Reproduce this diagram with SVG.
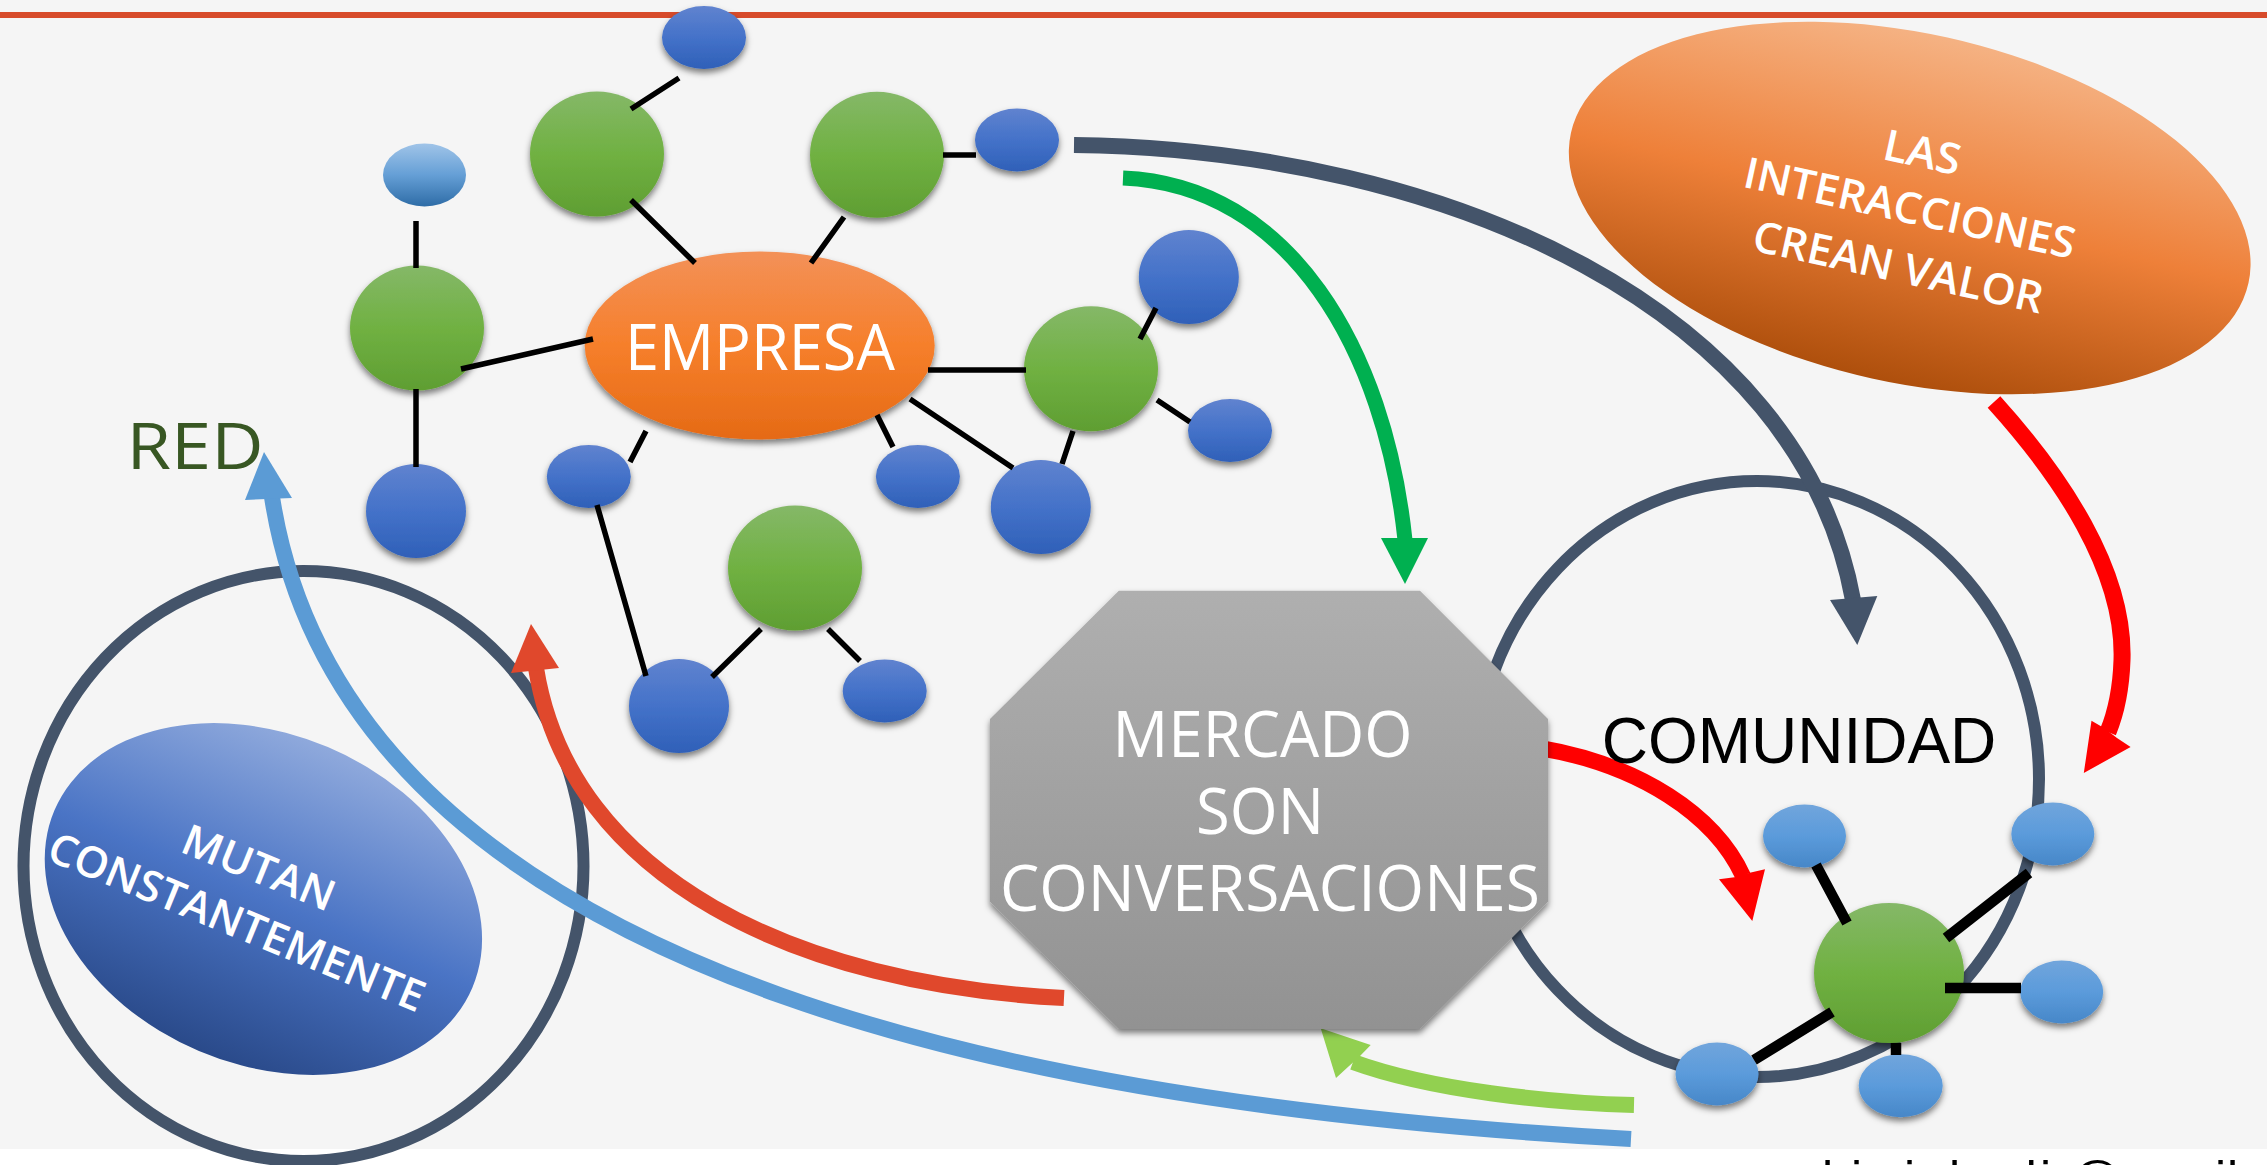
<svg xmlns="http://www.w3.org/2000/svg" width="2267" height="1165" viewBox="0 0 2267 1165">
<defs>
<linearGradient id="gGreen" x1="0" y1="0" x2="0" y2="1"><stop offset="0" stop-color="#85b868"/><stop offset="0.5" stop-color="#70b142"/><stop offset="1" stop-color="#5f9e32"/></linearGradient>
<linearGradient id="gBlue" x1="0" y1="0" x2="0" y2="1"><stop offset="0" stop-color="#6083cf"/><stop offset="0.5" stop-color="#4472c9"/><stop offset="1" stop-color="#2f60b8"/></linearGradient>
<linearGradient id="gSky" x1="0" y1="0" x2="0" y2="1"><stop offset="0" stop-color="#71a5dc"/><stop offset="0.5" stop-color="#5b9bdb"/><stop offset="1" stop-color="#4787c8"/></linearGradient>
<linearGradient id="gPale" x1="0" y1="0" x2="0" y2="1"><stop offset="0" stop-color="#a0c4e8"/><stop offset="0.5" stop-color="#659fd6"/><stop offset="1" stop-color="#2e6ca6"/></linearGradient>
<linearGradient id="gEmp" x1="0" y1="0" x2="0" y2="1"><stop offset="0" stop-color="#f39158"/><stop offset="0.5" stop-color="#f67f2b"/><stop offset="1" stop-color="#e56a15"/></linearGradient>
<linearGradient id="gLas" x1="0" y1="0" x2="0" y2="1"><stop offset="0" stop-color="#f5b283"/><stop offset="0.5" stop-color="#ee8039"/><stop offset="1" stop-color="#ae4f0c"/></linearGradient>
<linearGradient id="gMut" x1="0" y1="0" x2="0" y2="1"><stop offset="0" stop-color="#8fa9dc"/><stop offset="0.5" stop-color="#4a74c5"/><stop offset="1" stop-color="#2a4a8a"/></linearGradient>
<linearGradient id="gOct" x1="0" y1="0" x2="0" y2="1"><stop offset="0" stop-color="#afafaf"/><stop offset="1" stop-color="#929292"/></linearGradient>
<filter id="sh" x="-20%" y="-20%" width="140%" height="150%"><feDropShadow dx="0" dy="4" stdDeviation="3" flood-color="#000" flood-opacity="0.5"/></filter>
</defs>
<style>
.g{fill:url(#gGreen);filter:url(#sh)}
.b{fill:url(#gBlue);filter:url(#sh)}
.s{fill:url(#gSky);filter:url(#sh)}
.l{stroke:#000;stroke-width:5.500;fill:none}
.k{stroke:#000;stroke-width:10.500;fill:none}
.a{fill:none}
.t{font-family:"Open Sans","Noto Sans",sans-serif;font-weight:400;font-size:64px;fill:#fff;text-anchor:middle}
.u{font-family:"Open Sans","Noto Sans",sans-serif;font-weight:600;font-size:43px;fill:#fff;text-anchor:middle}
.r{fill:none;stroke:#44546a;stroke-width:12}
</style>
<rect x="0" y="0" width="2267" height="1149" fill="#f5f5f5"/>
<rect x="0" y="12" width="2267" height="6" fill="#d74b2b"/>
<g id="ring-red"><ellipse class="r" cx="303.500" cy="866" rx="280" ry="295"/></g>
<g id="ring-comunidad"><ellipse class="r" cx="1757" cy="779" rx="282" ry="298"/></g>
<g id="blue-1"><ellipse class="b" cx="704" cy="37.500" rx="42" ry="31.500"/></g>
<g id="green-a"><ellipse class="g" cx="597" cy="154" rx="67" ry="62.500"/></g>
<g id="pale-1"><ellipse fill="url(#gPale)" cx="424.500" cy="175" rx="41.500" ry="31.500"/></g>
<g id="green-b"><ellipse class="g" cx="417" cy="328" rx="67" ry="62.500"/></g>
<g id="blue-2"><ellipse class="b" cx="416" cy="511" rx="50" ry="47"/></g>
<g id="green-c"><ellipse class="g" cx="877" cy="154.700" rx="67" ry="63"/></g>
<g id="blue-3"><ellipse class="b" cx="1017" cy="140" rx="42" ry="31.500"/></g>
<g id="empresa"><ellipse fill="url(#gEmp)" filter="url(#sh)" cx="759.700" cy="345.500" rx="175" ry="94"/><text class="t" x="760" y="370" textLength="270" lengthAdjust="spacingAndGlyphs">EMPRESA</text></g>
<g id="blue-4"><ellipse class="b" cx="1188.800" cy="277" rx="50" ry="47"/></g>
<g id="green-d"><ellipse class="g" cx="1091" cy="368.800" rx="67" ry="62.500"/></g>
<g id="blue-5"><ellipse class="b" cx="1230" cy="430.500" rx="42" ry="31.500"/></g>
<g id="blue-6"><ellipse class="b" cx="1040.800" cy="507" rx="50" ry="47"/></g>
<g id="blue-7"><ellipse class="b" cx="917.900" cy="476.500" rx="42" ry="31.500"/></g>
<g id="blue-8"><ellipse class="b" cx="588.800" cy="476.500" rx="42" ry="31.500"/></g>
<g id="green-e"><ellipse class="g" cx="795" cy="568" rx="67" ry="62.500"/></g>
<g id="blue-9"><ellipse class="b" cx="679" cy="706" rx="50" ry="47"/></g>
<g id="blue-10"><ellipse class="b" cx="884.700" cy="691" rx="42" ry="31.500"/></g>
<g id="las"><ellipse fill="url(#gLas)" cx="1909.700" cy="208" rx="347" ry="174.600" transform="rotate(12.500 1909.700 208)"/>
<text class="u" transform="translate(1919 167) rotate(12.400)" x="0" y="0" textLength="78" lengthAdjust="spacingAndGlyphs">LAS</text>
<text class="u" transform="translate(1906.500 222.700) rotate(12.400)" x="0" y="0" textLength="338" lengthAdjust="spacingAndGlyphs">INTERACCIONES</text>
<text class="u" transform="translate(1895 281.700) rotate(12.400)" x="0" y="0" textLength="296" lengthAdjust="spacingAndGlyphs">CREAN VALOR</text></g>
<g id="mutan"><ellipse fill="url(#gMut)" cx="263.400" cy="899" rx="227" ry="165" transform="rotate(23 263.400 899)"/>
<text class="u" transform="translate(253 881.600) rotate(22.200)" x="0" y="0" textLength="161" lengthAdjust="spacingAndGlyphs">MUTAN</text>
<text class="u" transform="translate(231 936) rotate(22.400)" x="0" y="0" textLength="403" lengthAdjust="spacingAndGlyphs">CONSTANTEMENTE</text></g>
<g id="green-f"><ellipse class="g" cx="1889" cy="973" rx="75" ry="70"/></g>
<g id="sky-1"><ellipse class="s" cx="1804.500" cy="836" rx="41.500" ry="31.500"/></g>
<g id="sky-2"><ellipse class="s" cx="2052.800" cy="834" rx="41.500" ry="31.500"/></g>
<g id="sky-3"><ellipse class="s" cx="2061.700" cy="992" rx="41.500" ry="31.500"/></g>
<g id="sky-4"><ellipse class="s" cx="1717" cy="1074" rx="41.500" ry="31.500"/></g>
<g id="sky-5"><ellipse class="s" cx="1900.700" cy="1085.700" rx="42" ry="31.500"/></g>
<g id="connectors">
<path class="l" d="M679,78L631,109M631,200L695,263M416,221V268M461,369L593,339M416,389V467M844,217L811,263M943,155H976M1156,308L1140,339M1157,400L1190,422M928,370H1026M910,399L1013,468M1073,431L1062,464M877,415L893,447M646,431L630,462M597,505L646,676M761,629L712,677M828,629L860,661"/>
<path class="k" d="M1816,865L1847,923M2029,873L1946,938M1945,988H2021M1832,1012L1754,1060M1896,1043V1055"/>
<path class="a" d="M1074,145C1450,150 1800,310 1853,600" stroke="#44546a" stroke-width="16"/>
<polygon points="1857.300,645 1830,600 1877.300,596" fill="#44546a"/>
<path class="a" d="M1123,178C1290,185 1385,350 1405,540" stroke="#00b050" stroke-width="15"/>
<polygon points="1405,584 1381,538 1428,538" fill="#00b050"/>
<path class="a" d="M1994,402C2060,475 2125,570 2122,660C2121,690 2115,715 2108,732" stroke="#f00" stroke-width="17"/>
<polygon points="2083.800,773 2091.500,720.700 2104,728 2117,738 2130.600,747" fill="#f00"/>
<path class="a" d="M1540,748C1640,765 1715,815 1743,876" stroke="#f00" stroke-width="16"/>
<polygon points="1752.300,921 1719,879.300 1734.500,877.300 1749.800,872.700 1765,869.300" fill="#f00"/>
<path class="a" d="M1064,998C800,985 570,880 536,668" stroke="#e0482c" stroke-width="16"/>
<polygon points="531,624 511,673 559,668" fill="#e0482c"/>
<path class="a" d="M1631,1139C1100,1110 350,1000 272,497" stroke="#5b9bd5" stroke-width="16"/>
<polygon points="264,452 245,500 292,498" fill="#5b9bd5"/>
<path class="a" d="M1634,1105C1550,1103 1430,1090 1353,1062" stroke="#92d050" stroke-width="16"/>
<polygon points="1320.700,1028.300 1370.700,1045 1359.300,1056.700 1347.700,1067.300 1336,1078" fill="#92d050"/>
</g>
<g id="mercado"><polygon fill="url(#gOct)" filter="url(#sh)" points="1118.800,590.700 1420,590.700 1548,719 1548,901.700 1420,1029 1118.800,1029 990,901.700 990,719"/>
<text class="t" x="1262.500" y="757" textLength="300" lengthAdjust="spacingAndGlyphs">MERCADO</text>
<text class="t" x="1260" y="834" textLength="128" lengthAdjust="spacingAndGlyphs">SON</text>
<text class="t" x="1270" y="911" textLength="540" lengthAdjust="spacingAndGlyphs">CONVERSACIONES</text></g>
<text id="red" x="195" y="469" text-anchor="middle" textLength="137" lengthAdjust="spacingAndGlyphs" font-family="Open Sans, Noto Sans, sans-serif" font-weight="400" font-size="64" fill="#385723">RED</text>
<text id="comunidad" x="1799" y="763" text-anchor="middle" font-family="Liberation Sans, Arial, sans-serif" font-size="64" fill="#000">COMUNIDAD</text>
<text id="mail" y="1196" font-family="Liberation Sans, Arial, sans-serif" font-size="50" fill="#000" x="1822 1851 1870 1904 1925 1949 1960 2009 2040 2070 2130 2155 2190 2215 2227">bini.ludi@gmail</text>
</svg>
